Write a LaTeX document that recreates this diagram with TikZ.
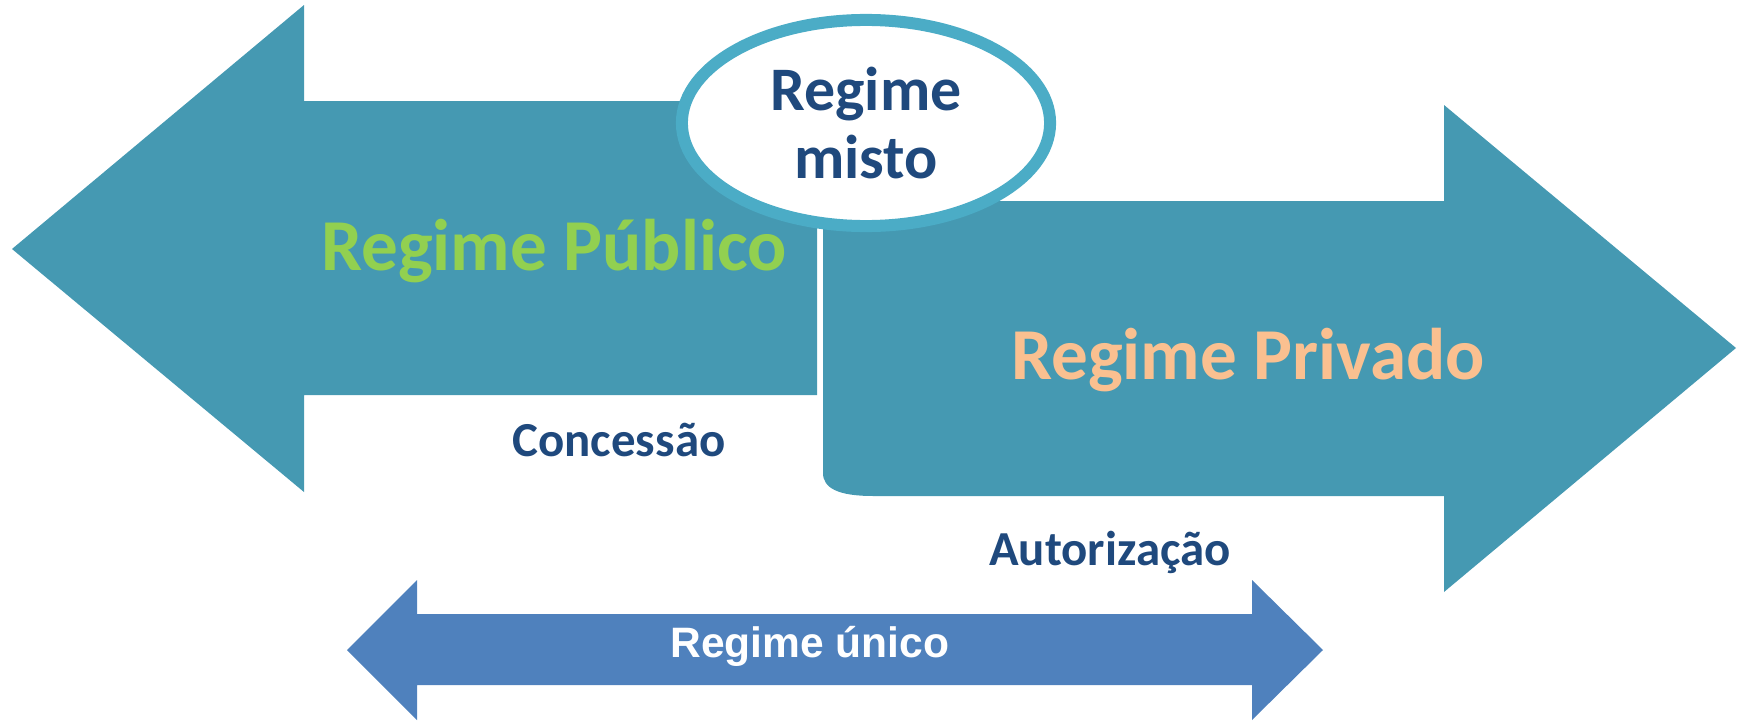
\documentclass[tikz,border=0pt]{standalone}
\usepackage{fontspec}
\setmainfont{Carlito}
\newfontfamily\arialfont{Liberation Sans}
\usetikzlibrary{shapes.geometric}
\definecolor{arrowteal}{HTML}{4599B2}
\definecolor{ringaqua}{HTML}{4BACC6}
\definecolor{labelblue}{HTML}{1F497D}
\definecolor{publicgreen}{HTML}{92D050}
\definecolor{privatepeach}{HTML}{FAC090}
\definecolor{unicoblue}{HTML}{4F81BD}
\begin{document}
\begin{tikzpicture}
[x=0.01cm,y=-0.01cm,
  arrowdecorate/.style={fill=arrowteal,draw=none},%
  unicodecorate/.style={fill=unicoblue,draw=none},%
  misodecorate/.style={shape=ellipse,draw=ringaqua,line width=0.12cm,fill=white,
    minimum width=3.68cm,minimum height=2.06cm,inner sep=0pt,align=center,
    text=labelblue,font=\fontsize{17.6pt}{19.6pt}\selectfont\bfseries},%
  regimedecorate/.style={anchor=base,inner sep=0pt,font=\fontsize{20.8pt}{24pt}\selectfont\bfseries},%
  labeldecorate/.style={anchor=base,inner sep=0pt,text=labelblue,font=\fontsize{13.9pt}{16pt}\selectfont\bfseries}]
\useasboundingbox (0,0) rectangle (1741,721);
%% big arrows
\fill[arrowdecorate] (817,101) -- (304,101) -- (304,5) -- (12,249) -- (304,492)
  -- (304,395) -- (817,395) -- cycle;
\fill[arrowdecorate] (823,201) -- (1444,201) -- (1444,105) -- (1736,348) -- (1444,592)
  -- (1444,496) -- (873,496) .. controls (838,496) and (823,488) .. (823,473) -- cycle;
%% mixed regime
\node (misto) at (866,123) [misodecorate] {Regime\\misto};
%% regime labels
\node (publico) at (554,271) [regimedecorate,text=publicgreen] {Regime Público};
\node (privado) at (1248,379) [regimedecorate,text=privatepeach] {Regime Privado};
\foreach \nodename/\x/\y/\txt in {concessao/619/456/Concessão, autorizacao/1110/565/Autorização} {
  \node (\nodename) at (\x,\y) [labeldecorate] {\txt};
}
%% single regime arrow
\fill[unicodecorate] (417,614) -- (1252,614) -- (1252,580) -- (1323,650) -- (1252,720)
  -- (1252,685) -- (417,685) -- (417,720) -- (347,650) -- (417,580) -- cycle;
\node (unico) at (810,657) [anchor=base,inner sep=0pt,text=white,
  font=\arialfont\fontsize{12.1pt}{14pt}\selectfont\bfseries] {Regime único};
\end{tikzpicture}
\end{document}
